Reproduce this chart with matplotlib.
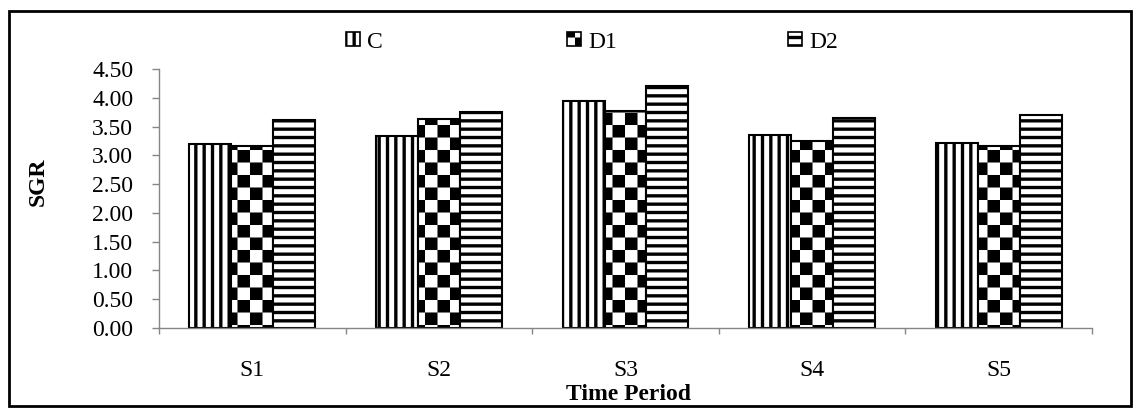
import warnings
import matplotlib
matplotlib.use('Agg')
import matplotlib.pyplot as plt
import matplotlib.hatch as mhatch
from matplotlib.path import Path
from matplotlib.patches import Rectangle, Patch

warnings.filterwarnings('ignore')

# Datos
periods = ['S1', 'S2', 'S3', 'S4', 'S5']
sgr_c = [3.19, 3.34, 3.94, 3.35, 3.22]
sgr_d1 = [3.17, 3.63, 3.77, 3.25, 3.17]
sgr_d2 = [3.62, 3.75, 4.21, 3.65, 3.70]
series_names = ['C', 'D1', 'D2']
y_ticks = [0.0, 0.5, 1.0, 1.5, 2.0, 2.5, 3.0, 3.5, 4.0, 4.5]


# Trama de tablero de ajedrez (no existe en matplotlib)
class CheckerHatch(mhatch.HatchPatternBase):
    def __init__(self, hatch, density):
        self.n = 8 if 'c' in hatch else 0
        self.num_vertices = 5 * (self.n * self.n // 2)

    def set_vertices_and_codes(self, vertices, codes):
        s = 1.0 / self.n
        g = 0.033
        k = 0
        for i in range(self.n):
            for j in range(self.n):
                if (i + j) % 2:
                    continue
                x0, y0 = i * s + g / 2, j * s + g / 2
                x1, y1 = x0 + s - g, y0 + s - g
                vertices[k:k + 5] = [(x0, y0), (x1, y0), (x1, y1), (x0, y1), (x0, y0)]
                codes[k:k + 5] = [Path.MOVETO, Path.LINETO, Path.LINETO,
                                  Path.LINETO, Path.CLOSEPOLY]
                k += 5


mhatch._hatch_types.append(CheckerHatch)

plt.rcParams['font.family'] = ['Liberation Serif', 'DejaVu Serif']
plt.rcParams['font.size'] = 17
plt.rcParams['hatch.linewidth'] = 2.4
plt.rcParams['hatch.color'] = 'black'

fig = plt.figure(figsize=(11.4, 4.08), dpi=100)
ax = fig.add_axes([159 / 1140, 1 - 328 / 408, (1092 - 159) / 1140, (328 - 69) / 408])

gris = '#868686'
w = 0.225
hatches = ['||', 'c', '--']
values = [sgr_c, sgr_d1, sgr_d2]
x = list(range(len(periods)))

for n in range(3):
    xs = [xi + (n - 1) * w for xi in x]
    ax.bar(xs, values[n], width=w, color='white', edgecolor='black',
           linewidth=1.5, hatch=hatches[n], zorder=2)

ax.set_xlim(-0.5, 4.5)
ax.set_ylim(0, 4.5)
ax.set_yticks(y_ticks)
ax.set_yticklabels(['%.2f' % v for v in y_ticks])
ax.set_xticks(x)
ax.set_xticklabels(periods)
ax.set_xticks([-0.5, 0.5, 1.5, 2.5, 3.5, 4.5], minor=True)

ax.tick_params(axis='x', which='major', length=0, pad=23)
ax.tick_params(axis='x', which='minor', length=4.5, color=gris, width=1)
ax.tick_params(axis='y', length=5, color=gris, width=1, pad=13.5)

for lado in ['top', 'right']:
    ax.spines[lado].set_visible(False)
for lado in ['left', 'bottom']:
    ax.spines[lado].set_color(gris)
    ax.spines[lado].set_linewidth(1)

fig.text(38 / 1140, 1 - 182 / 408, 'SGR', rotation=90, fontweight='bold',
         ha='center', va='center')
fig.text(628 / 1140, 1 - 395 / 408, 'Time Period', fontweight='bold',
         ha='center', va='center')

# Leyenda: una por serie para respetar el espaciado
leg_x = [346, 567, 788]
for n in range(3):
    h = Patch(facecolor='white', edgecolor='black', linewidth=1.2, hatch=hatches[n])
    fig.legend([h], [series_names[n]], loc='center left',
               bbox_to_anchor=(leg_x[n] / 1140, 1 - 42 / 408),
               frameon=False, handlelength=0.6, handleheight=0.5,
               handletextpad=0.3, borderpad=0, borderaxespad=0)

# Marco exterior
marco = Rectangle((9 / 1140, 2 / 408), (1131 - 9) / 1140, (406 - 11) / 408,
                  transform=fig.transFigure, fill=False, edgecolor='black',
                  linewidth=2)
fig.patches.append(marco)

fig.savefig('out.png', dpi=100)
